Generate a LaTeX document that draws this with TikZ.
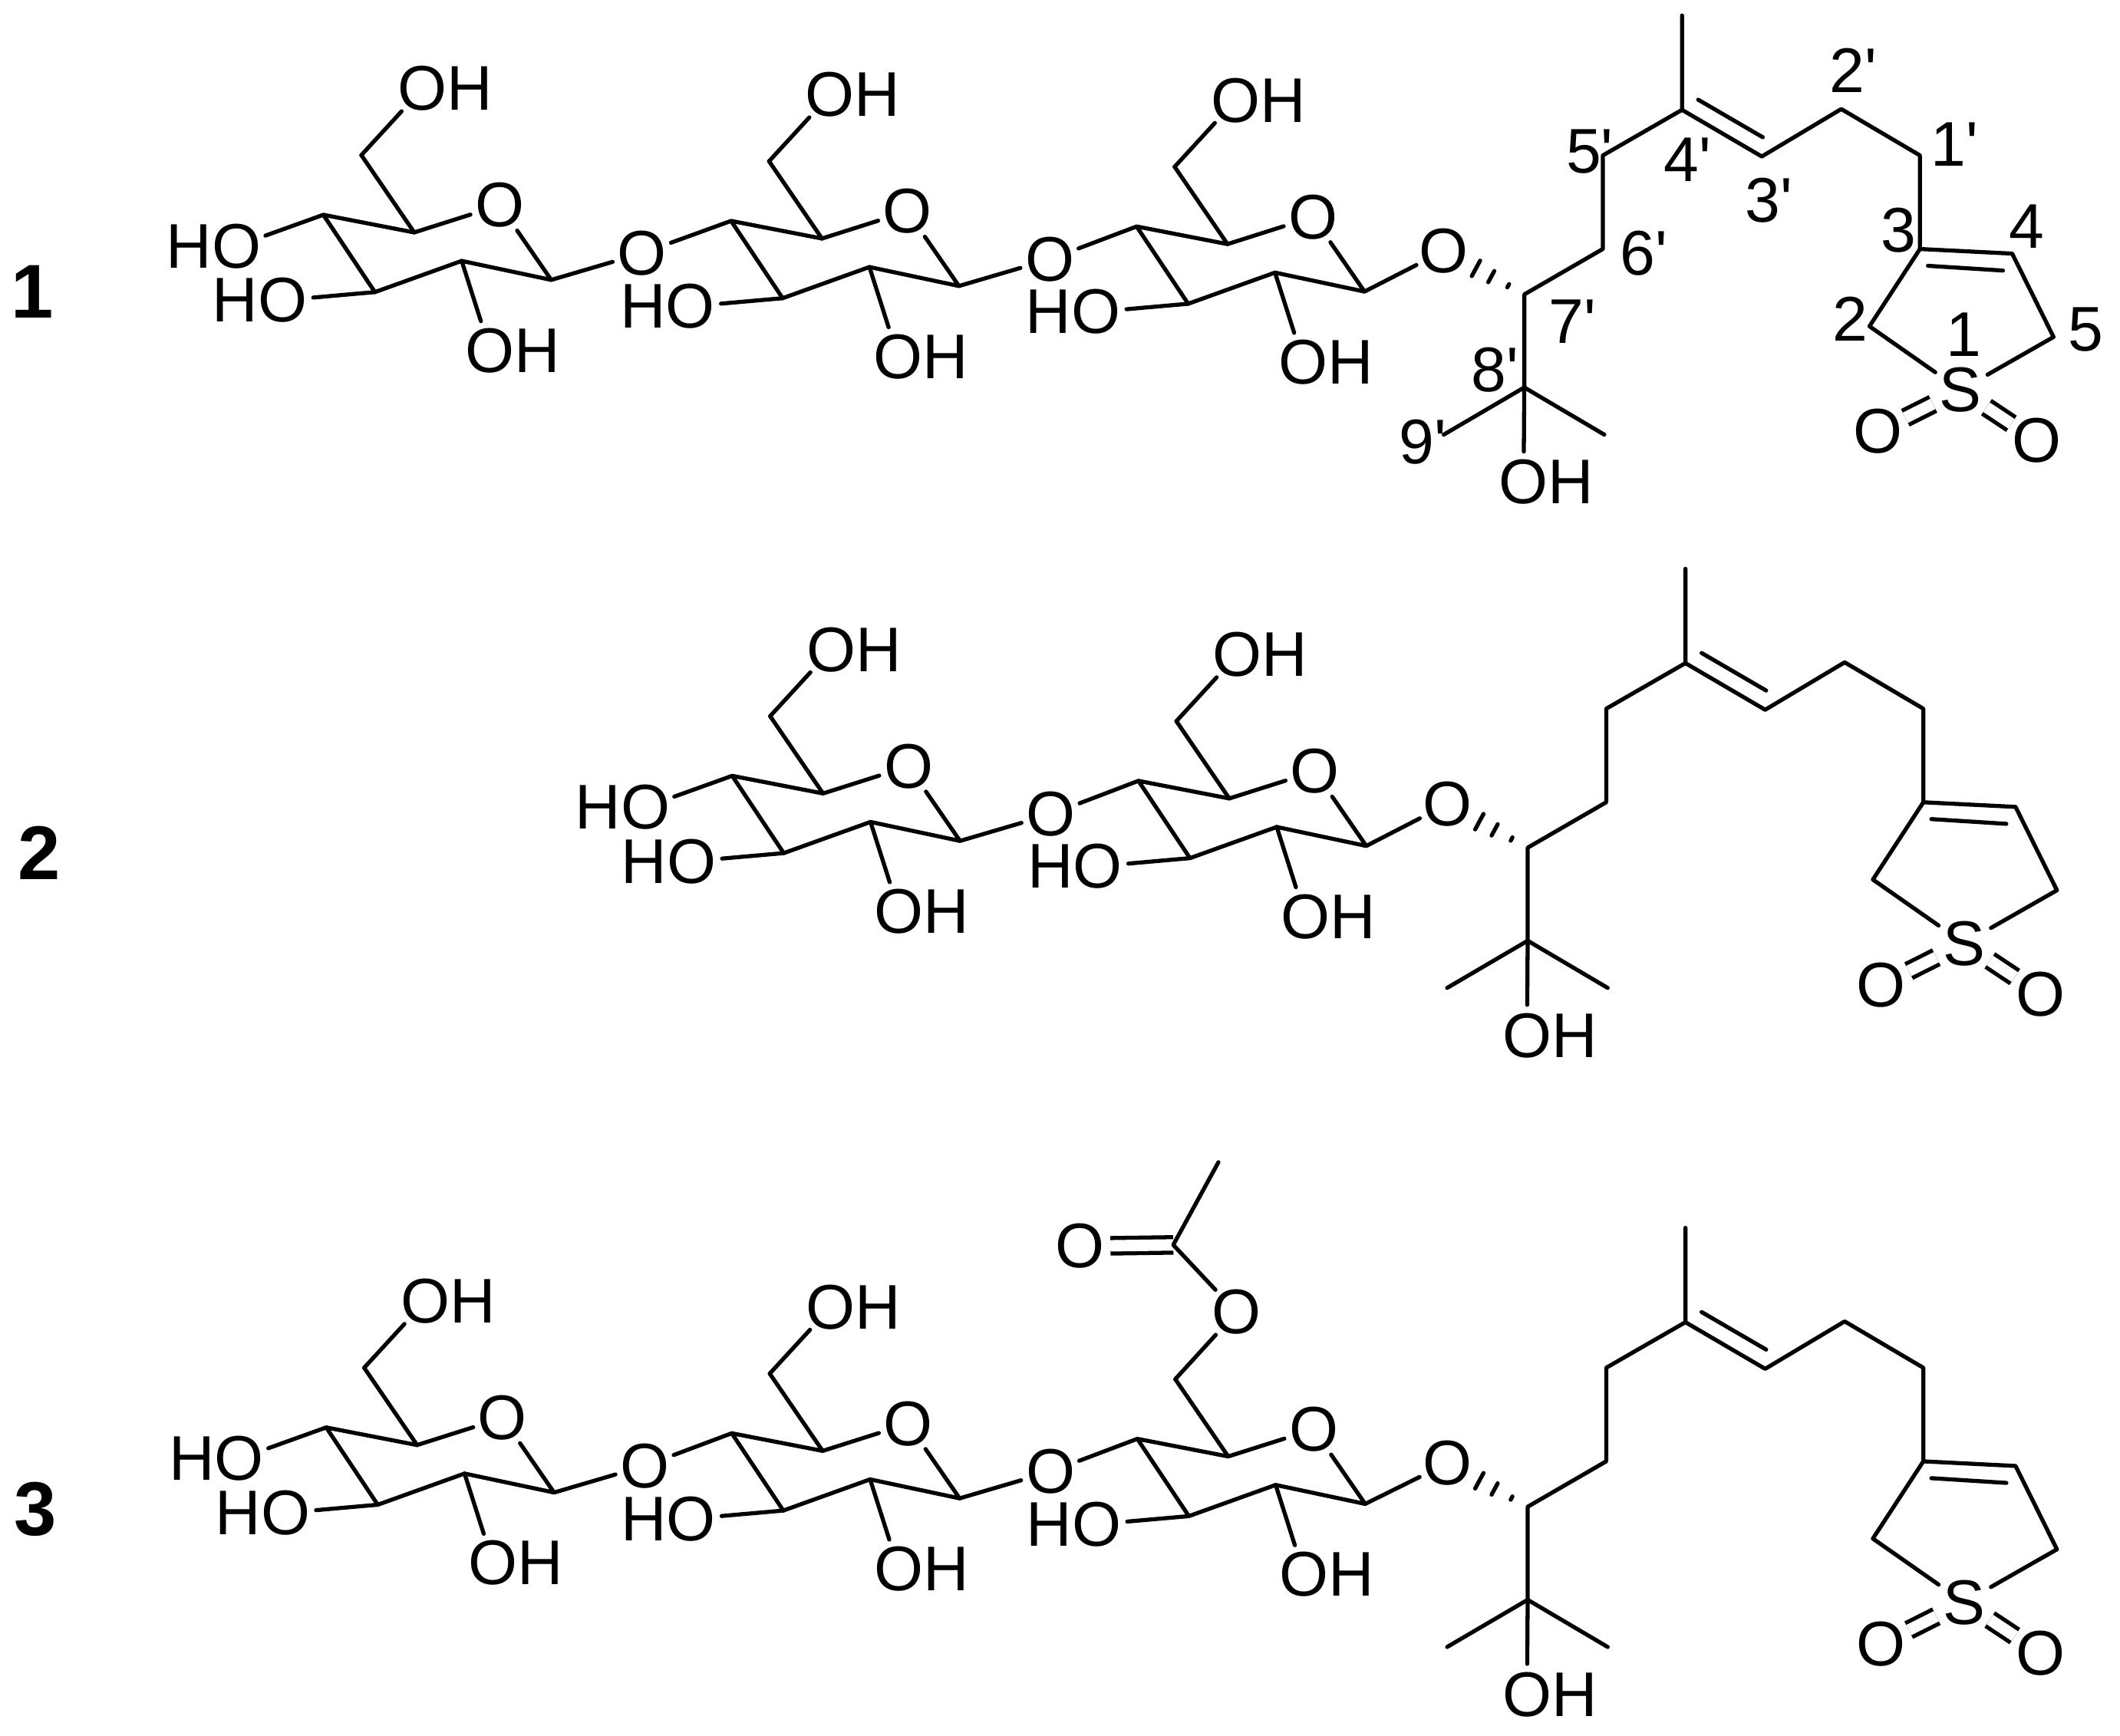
\documentclass[tikz,border=0pt]{standalone}
\usepackage{fontspec}
\usetikzlibrary{calc}
\newfontfamily\chemfont{Liberation Sans}

\tikzset{
  bond/.style={line width=1.7pt,line cap=round,line join=round},
  dbond/.style={line width=1.7pt,double,double distance=4.8pt},
  atom/.style={circle,inner sep=0pt,outer sep=-1pt,font=\chemfont\fontsize{26.5}{30}\selectfont},
  num/.style={inner sep=0pt,font=\chemfont\fontsize{26.5}{30}\selectfont},
  cpd/.style={inner sep=0pt,font=\chemfont\bfseries\fontsize{32}{36}\selectfont}
}

% sugar ring, placed by its C4
\newcommand{\sugar}[3]{
  \begin{scope}[shift={(#2,#3)}]
  \coordinate (#1c4) at (0,0);
  \coordinate (#1c5) at (67,13);
  \coordinate (#1c3) at (38,57);
  \coordinate (#1c2) at (102,34);
  \coordinate (#1c1) at (168,48);
  \coordinate (#1c6) at (28,-44);
  \node[atom] (#1ro) at (130,-7) {O};
  \node[atom] (#1o2) at (123,100) {O\rlap{H}};
  \node[atom] (#1o3) at (-30,63) {\llap{H}O};
  \draw[bond] (#1ro) -- (#1c5) -- (#1c4) -- (#1c3) -- (#1c2) -- (#1c1) -- (#1ro);
  \draw[bond] (#1c5) -- (#1c6);
  \draw[bond] (#1c2) -- (#1o2);
  \draw[bond] (#1c3) -- (#1o3);
  \end{scope}
}
% CH2-OH arm
\newcommand{\armoh}[1]{
  \node[atom] (#1o6) at ([shift={(45,-49)}]#1c6) {O\rlap{H}};
  \draw[bond] (#1c6) -- (#1o6);
}
% free OH on C4
\newcommand{\hofour}[1]{
  \node[atom] (#1o4) at ([shift={(-64,23)}]#1c4) {\llap{H}O};
  \draw[bond] (#1o4) -- (#1c4);
}
% glycosidic O between two rings
\newcommand{\oxlink}[3]{
  \node[atom] (#1) at ([shift={(235,28.3)}]#2c4) {O};
  \draw[bond] (#2c1) -- (#1) -- (#3c4);
}
% side chain with the sulfolene ring
\newcommand{\chain}[3]{
  \begin{scope}[shift={(#2,#3)}]
  \coordinate (#1me) at (1242.6,419.4);
  \coordinate (#1p4) at (1242.6,489);
  \coordinate (#1p3) at (1301.4,523.4);
  \coordinate (#1p2) at (1360,488.4);
  \coordinate (#1p1) at (1418,522.6);
  \coordinate (#1p5) at (1184.2,522.6);
  \coordinate (#1p6) at (1184.2,591.6);
  \coordinate (#1p7) at (1126.3,625.1);
  \coordinate (#1p8) at (1126.3,693.7);
  \coordinate (#1ml) at (1066.9,728.5);
  \coordinate (#1mr) at (1185.3,728.5);
  \coordinate (#1r2) at (1380.8,648.6);
  \coordinate (#1r3) at (1418,591.6);
  \coordinate (#1r4) at (1486,595);
  \coordinate (#1r5) at (1516.5,656.5);
  \coordinate (#1da) at (1254.5,481.5);
  \coordinate (#1db) at (1302.1,509.2);
  \coordinate (#1dc) at (1423.9,604);
  \coordinate (#1dd) at (1479.2,607.5);
  \node[atom] (#1lo) at (1066.9,593.1) {O};
  \node[atom] (#1oh) at (1125.8,763.6) {O\rlap{H}};
  \node[atom,minimum size=28pt] (#1s) at (1448,695.6) {S};
  \node[atom] (#1ol) at (1387,726.2) {O};
  \node[atom] (#1or) at (1504.3,733) {O};
  \draw[dbond] (#1s) -- (#1ol);
  \draw[dbond] (#1s) -- (#1or);
  \draw[bond] (#1me) -- (#1p4) -- (#1p3) -- (#1p2) -- (#1p1) -- (#1r3) -- (#1r4) -- (#1r5) -- (#1s) -- (#1r2) -- (#1r3);
  \draw[bond] (#1p4) -- (#1p5) -- (#1p6) -- (#1p7) -- (#1p8) -- (#1oh);
  \draw[bond] (#1ml) -- (#1p8) -- (#1mr);
  \draw[bond] (#1da) -- (#1db);
  \draw[bond] (#1dc) -- (#1dd);
  \foreach \t/\w in {0.2/0.8pt,0.41/2.7pt,0.6/3.7pt}
    \draw[bond] ($(#1p7)!\t!(#1lo)!\w!90:(#1lo)$) -- ($(#1p7)!\t!(#1lo)!\w!-90:(#1lo)$);
  \end{scope}
}

\begin{document}
\begin{tikzpicture}[x=0.02cm,y=-0.02cm]
\useasboundingbox (0,0) rectangle (1563,1279.6);

% compound 1
\node[cpd] (cpda) at (24,215) {1};
\sugar{aa}{238.4}{158.4} \armoh{aa} \hofour{aa}
\sugar{ab}{539}{162.9} \armoh{ab}
\sugar{ac}{838}{167} \armoh{ac}
\oxlink{alx}{aa}{ab}
\oxlink{aly}{ab}{ac}
\chain{ch}{-2.5}{-408}
\draw[bond] (acc1) -- (chlo);

% numbering
\node[num] (na1) at (1448,247) {1};
\node[num] (na2) at (1364,235) {2};
\node[num] (na3) at (1400,170) {3};
\node[num] (na4) at (1494,167) {4};
\node[num] (na5) at (1538,243) {5};
\node[num] (np1) at (1441,106.5) {1'};
\node[num] (np2) at (1366.5,52) {2'};
\node[num] (np3) at (1304,148) {3'};
\node[num] (np4) at (1244,118) {4'};
\node[num] (np5) at (1172,112) {5'};
\node[num] (np6) at (1212,187) {6'};
\node[num] (np7) at (1159.5,237) {7'};
\node[num] (np8) at (1102,273) {8'};
\node[num] (np9) at (1049,326) {9'};

% compound 2
\node[cpd] (cpdb) at (29,629) {2};
\sugar{bb}{539.8}{572.1} \armoh{bb} \hofour{bb}
\sugar{bc}{839.3}{575.8} \armoh{bc}
\oxlink{blx}{bb}{bc}
\chain{di}{0}{0}
\draw[bond] (bcc1) -- (dilo);

% compound 3
\node[cpd] (cpdc) at (26,1113) {3};
\sugar{ca}{240.5}{1052.6} \armoh{ca} \hofour{ca}
\sugar{cb}{539.5}{1056.9} \armoh{cb}
\sugar{cc}{838.5}{1061}
\oxlink{clx}{ca}{cb}
\oxlink{cly}{cb}{cc}
\chain{ei}{0}{486}
\draw[bond] (ccc1) -- (eilo);

% acetyl
\coordinate (acme) at (898.3,857);
\coordinate (acc) at (865,918);
\node[atom] (aco) at (796,919) {O};
\node[atom] (ace) at (911.6,967.6) {O};
\draw[dbond] (acc) -- (aco);
\draw[bond] (acme) -- (acc) -- (ace) -- (ccc6);

\end{tikzpicture}
\end{document}
